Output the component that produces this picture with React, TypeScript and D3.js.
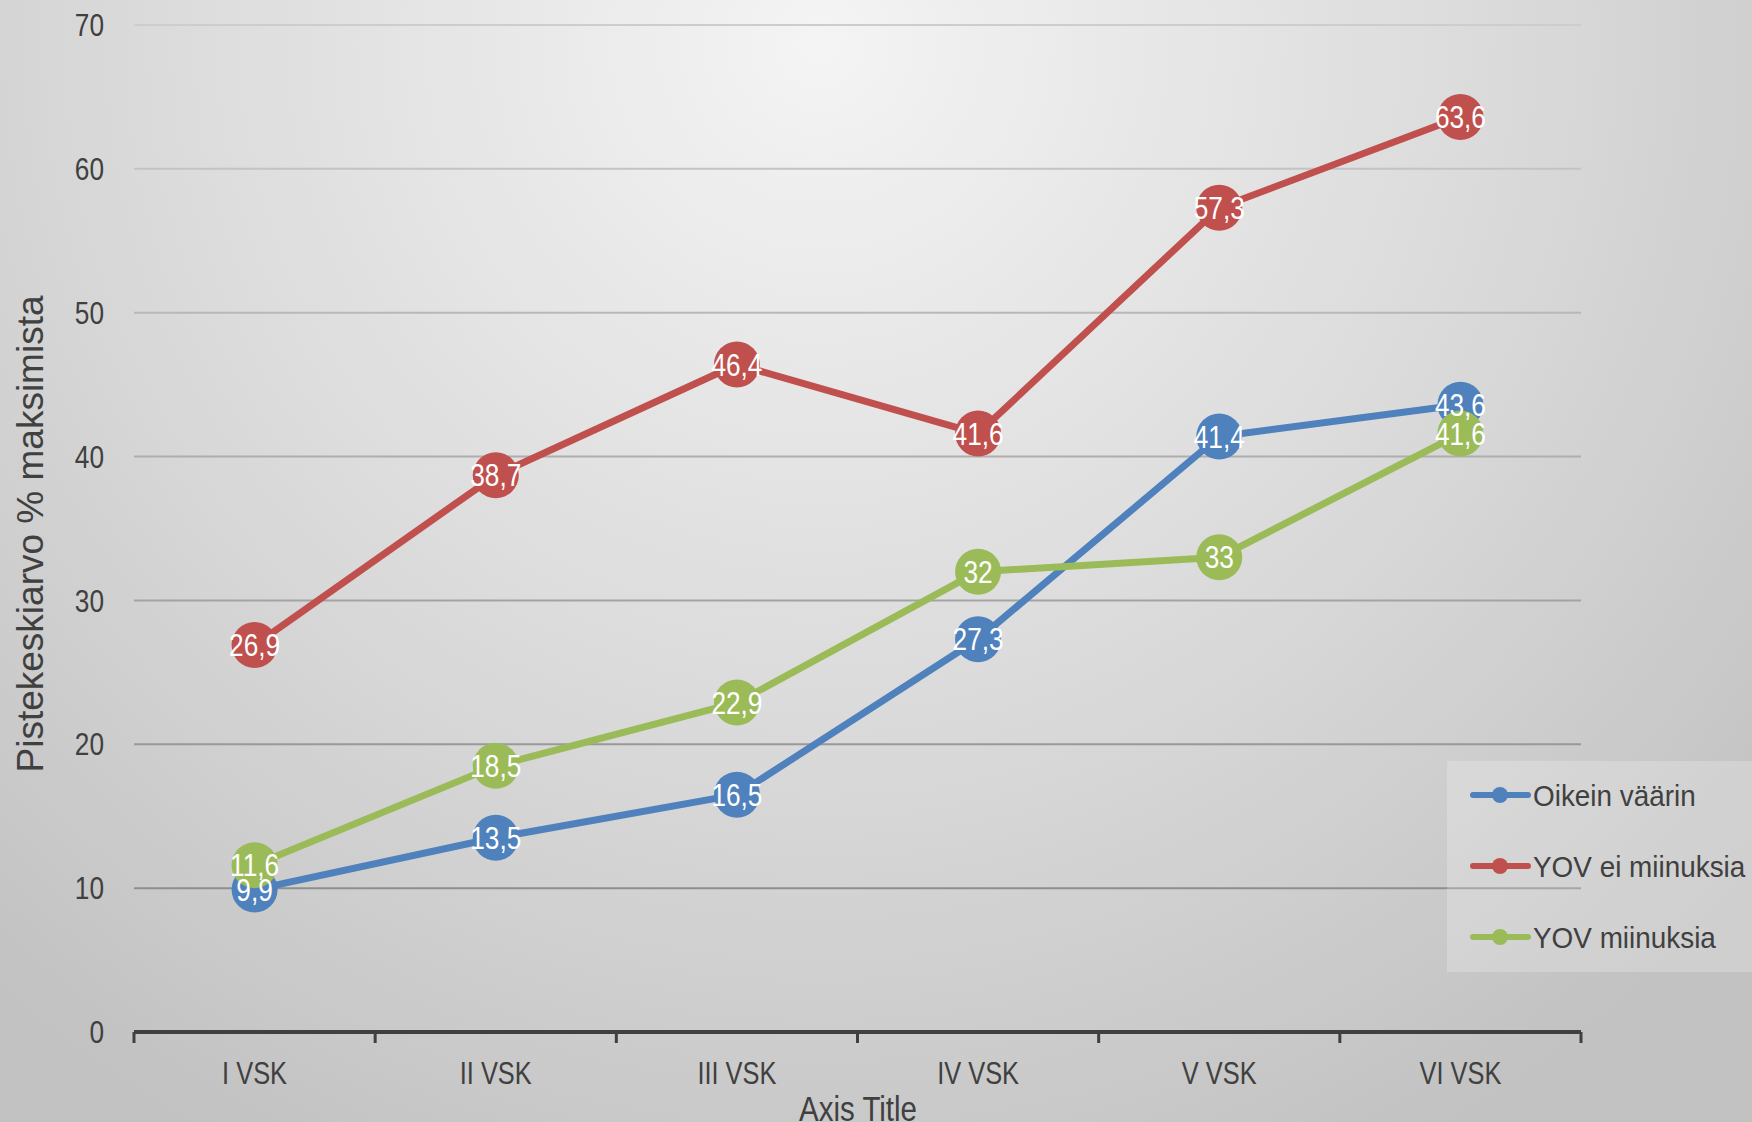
import React from 'react';
import * as d3 from 'd3';

const categories = ['I VSK', 'II VSK', 'III VSK', 'IV VSK', 'V VSK', 'VI VSK'];
const oikeinVaarin = [9.9, 13.5, 16.5, 27.3, 41.4, 43.6];
const yovEiMiinuksia = [26.9, 38.7, 46.4, 41.6, 57.3, 63.6];
const yovMiinuksia = [11.6, 18.5, 22.9, 32, 33, 41.6];
const yTicks = [0, 10, 20, 30, 40, 50, 60, 70];

const series = [
  { name: 'Oikein väärin', values: oikeinVaarin, color: '#4F81BD' },
  { name: 'YOV ei miinuksia', values: yovEiMiinuksia, color: '#C0504D' },
  { name: 'YOV miinuksia', values: yovMiinuksia, color: '#9BBB59' },
];

const W = 1752;
const H = 1122;
const sans = "'Liberation Sans', Arial, sans-serif";

const fmt = (v: number) => String(v).replace('.', ',');

// text squeezed horizontally, to get the narrow look of the original font
function NText({ x, y, size, sx = 0.82, anchor = 'start', fill = '#404040', children }: any) {
  return (
    <text
      transform={`translate(${x},${y}) scale(${sx},1)`}
      dy="0.35em"
      textAnchor={anchor}
      fontFamily={sans}
      fontSize={size}
      fill={fill}
    >
      {children}
    </text>
  );
}

export default function App() {
  const x = d3.scaleBand<string>().domain(categories).range([134, 1581]).padding(0);
  const y = d3.scaleLinear().domain([0, 70]).range([1032, 25]);
  const cx = (c: string) => (x(c) as number) + x.bandwidth() / 2;
  const gridColor = d3.scaleLinear<string>().domain([70, 10]).range(['#cdcdcd', '#8e8e8e']);
  const line = d3.line<number>()
    .x((_, i) => cx(categories[i]))
    .y(d => y(d));

  const boundaries = [...categories.map(c => x(c) as number), x.range()[1]];

  return (
    <svg width={W} height={H} style={{ position: 'absolute', left: 0, top: 0 }}>
      <defs>
        <radialGradient id="bg" gradientUnits="userSpaceOnUse" cx={820} cy={40} r={1250}>
          <stop offset="0" stopColor="#f4f4f4" />
          <stop offset="0.55" stopColor="#dadada" />
          <stop offset="1" stopColor="#c2c2c2" />
        </radialGradient>
      </defs>
      <rect width={W} height={H} fill="url(#bg)" />

      {/* gridlines */}
      {yTicks.filter(t => t > 0).map(t => (
        <line key={t} x1={134} x2={1581} y1={y(t)} y2={y(t)} stroke={gridColor(t)} strokeWidth={2} />
      ))}

      {/* y tick labels */}
      {yTicks.map(t => (
        <NText key={t} x={104} y={y(t)} size={32} anchor="end">{t}</NText>
      ))}

      {/* x axis */}
      <line x1={134} x2={1581} y1={y(0)} y2={y(0)} stroke="#404040" strokeWidth={4} />
      {boundaries.map((b, i) => (
        <line key={i} x1={b} x2={b} y1={y(0)} y2={y(0) + 11} stroke="#404040" strokeWidth={3} />
      ))}
      {categories.map(c => (
        <NText key={c} x={cx(c)} y={1073} size={31} anchor="middle">{c}</NText>
      ))}
      <NText x={858} y={1108} size={36} anchor="middle">Axis Title</NText>
      <text transform={`translate(30,${534}) rotate(-90)`} dy="0.35em" textAnchor="middle" fontFamily={sans} fontSize={37} fill="#404040">
        Pistekeskiarvo % maksimista
      </text>

      {/* series */}
      {series.map(s => (
        <g key={s.name}>
          <path d={line(s.values) || ''} fill="none" stroke={s.color} strokeWidth={7} strokeLinejoin="round" />
          {s.values.map((v, i) => (
            <circle key={i} cx={cx(categories[i])} cy={y(v)} r={23} fill={s.color} />
          ))}
        </g>
      ))}
      {series.map(s => (
        <g key={s.name + '-lab'}>
          {s.values.map((v, i) => (
            <NText key={i} x={cx(categories[i])} y={y(v)} size={32} anchor="middle" fill="#ffffff">
              {fmt(v)}
            </NText>
          ))}
        </g>
      ))}

      {/* legend */}
      <rect x={1447} y={761} width={W - 1447} height={211} fill="#ffffff" fillOpacity={0.22} />
      {series.map((s, i) => {
        const ly = 795 + i * 71;
        return (
          <g key={s.name + '-leg'}>
            <line x1={1473} x2={1528} y1={ly} y2={ly} stroke={s.color} strokeWidth={6} strokeLinecap="round" />
            <circle cx={1500} cy={ly} r={8} fill={s.color} />
            <NText x={1533} y={ly} size={30} sx={0.93}>{s.name}</NText>
          </g>
        );
      })}
    </svg>
  );
}
